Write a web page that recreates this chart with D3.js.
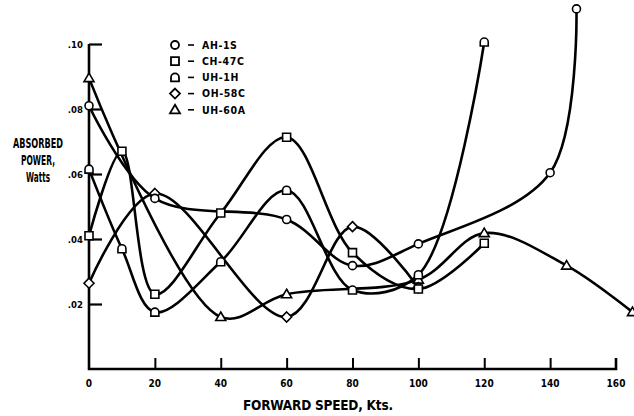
<!DOCTYPE html>
<html><head><meta charset="utf-8">
<script src="https://cdn.jsdelivr.net/npm/d3@7/dist/d3.min.js"></script>
<style>
body{margin:0;background:#fff;}
svg{display:block;}
text{font-family:"Liberation Sans Narrow","DejaVu Sans Condensed","DejaVu Sans",sans-serif;font-stretch:condensed;font-weight:bold;fill:#000;}
</style></head>
<body>
<svg id="chart" width="634" height="416"></svg>
<script>
// ---- data ----
const seriesNames = ["AH-1S", "CH-47C", "UH-1H", "OH-58C", "UH-60A"];
const markerKinds = ["circle", "square", "dome", "diamond", "triangle"];

const ah1sSpeed = [0, 20, 60, 80, 100, 140, 148];
const ah1sPower = [0.081, 0.0525, 0.046, 0.0318, 0.0385, 0.0604, 0.1108];

const ch47cSpeed = [0, 10, 20, 40, 60, 80, 100, 120];
const ch47cPower = [0.041, 0.067, 0.023, 0.048, 0.0713, 0.0358, 0.0246, 0.0387];

const uh1hSpeed = [0, 10, 20, 40, 60, 80, 100, 120];
const uh1hPower = [0.0615, 0.037, 0.0175, 0.033, 0.055, 0.0243, 0.029, 0.1006];

const oh58cSpeed = [0, 20, 60, 80, 100];
const oh58cPower = [0.0264, 0.054, 0.016, 0.0438, 0.025];

const uh60aSpeed = [0, 40, 60, 100, 120, 145, 165];
const uh60aPower = [0.0895, 0.016, 0.023, 0.0275, 0.0418, 0.0318, 0.0175];

const xTicks = [0, 20, 40, 60, 80, 100, 120, 140, 160];
const yTicks = [0.02, 0.04, 0.06, 0.08, 0.10];
const yTickLabels = [".02", ".04", ".06", ".08", ".10"];
const yTitleLines = ["ABSORBED", "POWER,", "Watts"];
const xTitle = "FORWARD SPEED, Kts.";

// ---- layout ----
const svg = d3.select("#chart");
const x = d3.scaleLinear().domain([0, 160]).range([89, 616]);
const y = d3.scaleLinear().domain([0, 0.10]).range([369, 44]);

const speeds = [ah1sSpeed, ch47cSpeed, uh1hSpeed, oh58cSpeed, uh60aSpeed];
const powers = [ah1sPower, ch47cPower, uh1hPower, oh58cPower, uh60aPower];
const series = seriesNames.map((n, i) => ({
  name: n, kind: markerKinds[i],
  pts: speeds[i].map((s, j) => ({s, p: powers[i][j]}))
}));

// axes
svg.append("path")
  .attr("d", `M${x(0)},${y(0.10)}V${y(0)}H${x(160)}V${y(0)-11}`)
  .attr("fill", "none").attr("stroke", "#000").attr("stroke-width", 2.6);

const yAxis = d3.axisRight(y).tickValues(yTicks).tickSize(13).tickFormat("");
const yg = svg.append("g").attr("transform", `translate(${x(0)},0)`).call(yAxis);
yg.select(".domain").remove();
yg.selectAll("line").attr("stroke", "#000").attr("stroke-width", 2.2);

const xAxis = d3.axisTop(x).tickValues(xTicks.slice(1, -1)).tickSize(11).tickFormat("");
const xg = svg.append("g").attr("transform", `translate(0,${y(0)})`).call(xAxis);
xg.select(".domain").remove();
xg.selectAll("line").attr("stroke", "#000").attr("stroke-width", 2);

// tick labels
svg.append("g").selectAll("text").data(yTicks).join("text")
  .attr("x", x(0) - 6).attr("y", d => y(d) + 3.5)
  .attr("text-anchor", "end").attr("font-size", 9.5)
  .text((d, i) => yTickLabels[i]);

svg.append("g").selectAll("text").data(xTicks).join("text")
  .attr("x", d => x(d)).attr("y", 387)
  .attr("text-anchor", "middle").attr("font-size", 10)
  .text(d => d);

// titles
svg.append("text").attr("x", 243).attr("y", 410)
  .attr("font-size", 13.5).attr("textLength", 150).attr("lengthAdjust", "spacing")
  .text(xTitle);

const yTitleW = [50, 34, 24];
svg.append("g").selectAll("text").data(yTitleLines).join("text")
  .attr("x", (d, i) => 38 - yTitleW[i] / 2).attr("y", (d, i) => 148 + i * 17)
  .attr("font-size", 13.5)
  .attr("textLength", (d, i) => yTitleW[i]).attr("lengthAdjust", "spacingAndGlyphs")
  .text(d => d);

// lines
const line = d3.line().x(d => x(d.s)).y(d => y(d.p)).curve(d3.curveCatmullRom.alpha(0.5));
svg.append("g").selectAll("path").data(series).join("path")
  .attr("d", d => line(d.pts))
  .attr("fill", "none").attr("stroke", "#000").attr("stroke-width", 2.6)
  .attr("stroke-linejoin", "round").attr("stroke-linecap", "round");

// markers (triangles drawn first so the others sit on top)
function markerPath(kind) {
  switch (kind) {
    case "circle": return "M-4,0a4,4 0 1,0 8,0a4,4 0 1,0 -8,0Z";
    case "square": return "M-4,-4H4V4H-4Z";
    case "dome": return "M-4,4V0a4,4 0 0,1 8,0V4Z";
    case "diamond": return "M0,-5L5,0L0,5L-5,0Z";
    case "triangle": return "M0,-5L5,3.5H-5Z";
  }
}
const mg = svg.append("g");
[4, 3, 1, 0, 2].forEach(k => {
  const sr = series[k];
  mg.selectAll(null).data(sr.pts).join("path")
    .attr("transform", d => `translate(${x(d.s)},${y(d.p)})`)
    .attr("d", markerPath(sr.kind))
    .attr("fill", "#fff").attr("stroke", "#000").attr("stroke-width", 1.6);
});

// legend
const lg = svg.append("g");
series.forEach((sr, i) => {
  const ly = 45 + i * 16.2;
  lg.append("path").attr("transform", `translate(175,${ly})`).attr("d", markerPath(sr.kind))
    .attr("fill", "#fff").attr("stroke", "#000").attr("stroke-width", 1.8);
  lg.append("line").attr("x1", 188).attr("x2", 194).attr("y1", ly).attr("y2", ly)
    .attr("stroke", "#000").attr("stroke-width", 1.6);
  lg.append("text").attr("x", 202).attr("y", ly + 3.8).attr("font-size", 10.5)
    .attr("letter-spacing", 0.6).text(sr.name);
});
</script>
</body></html>
